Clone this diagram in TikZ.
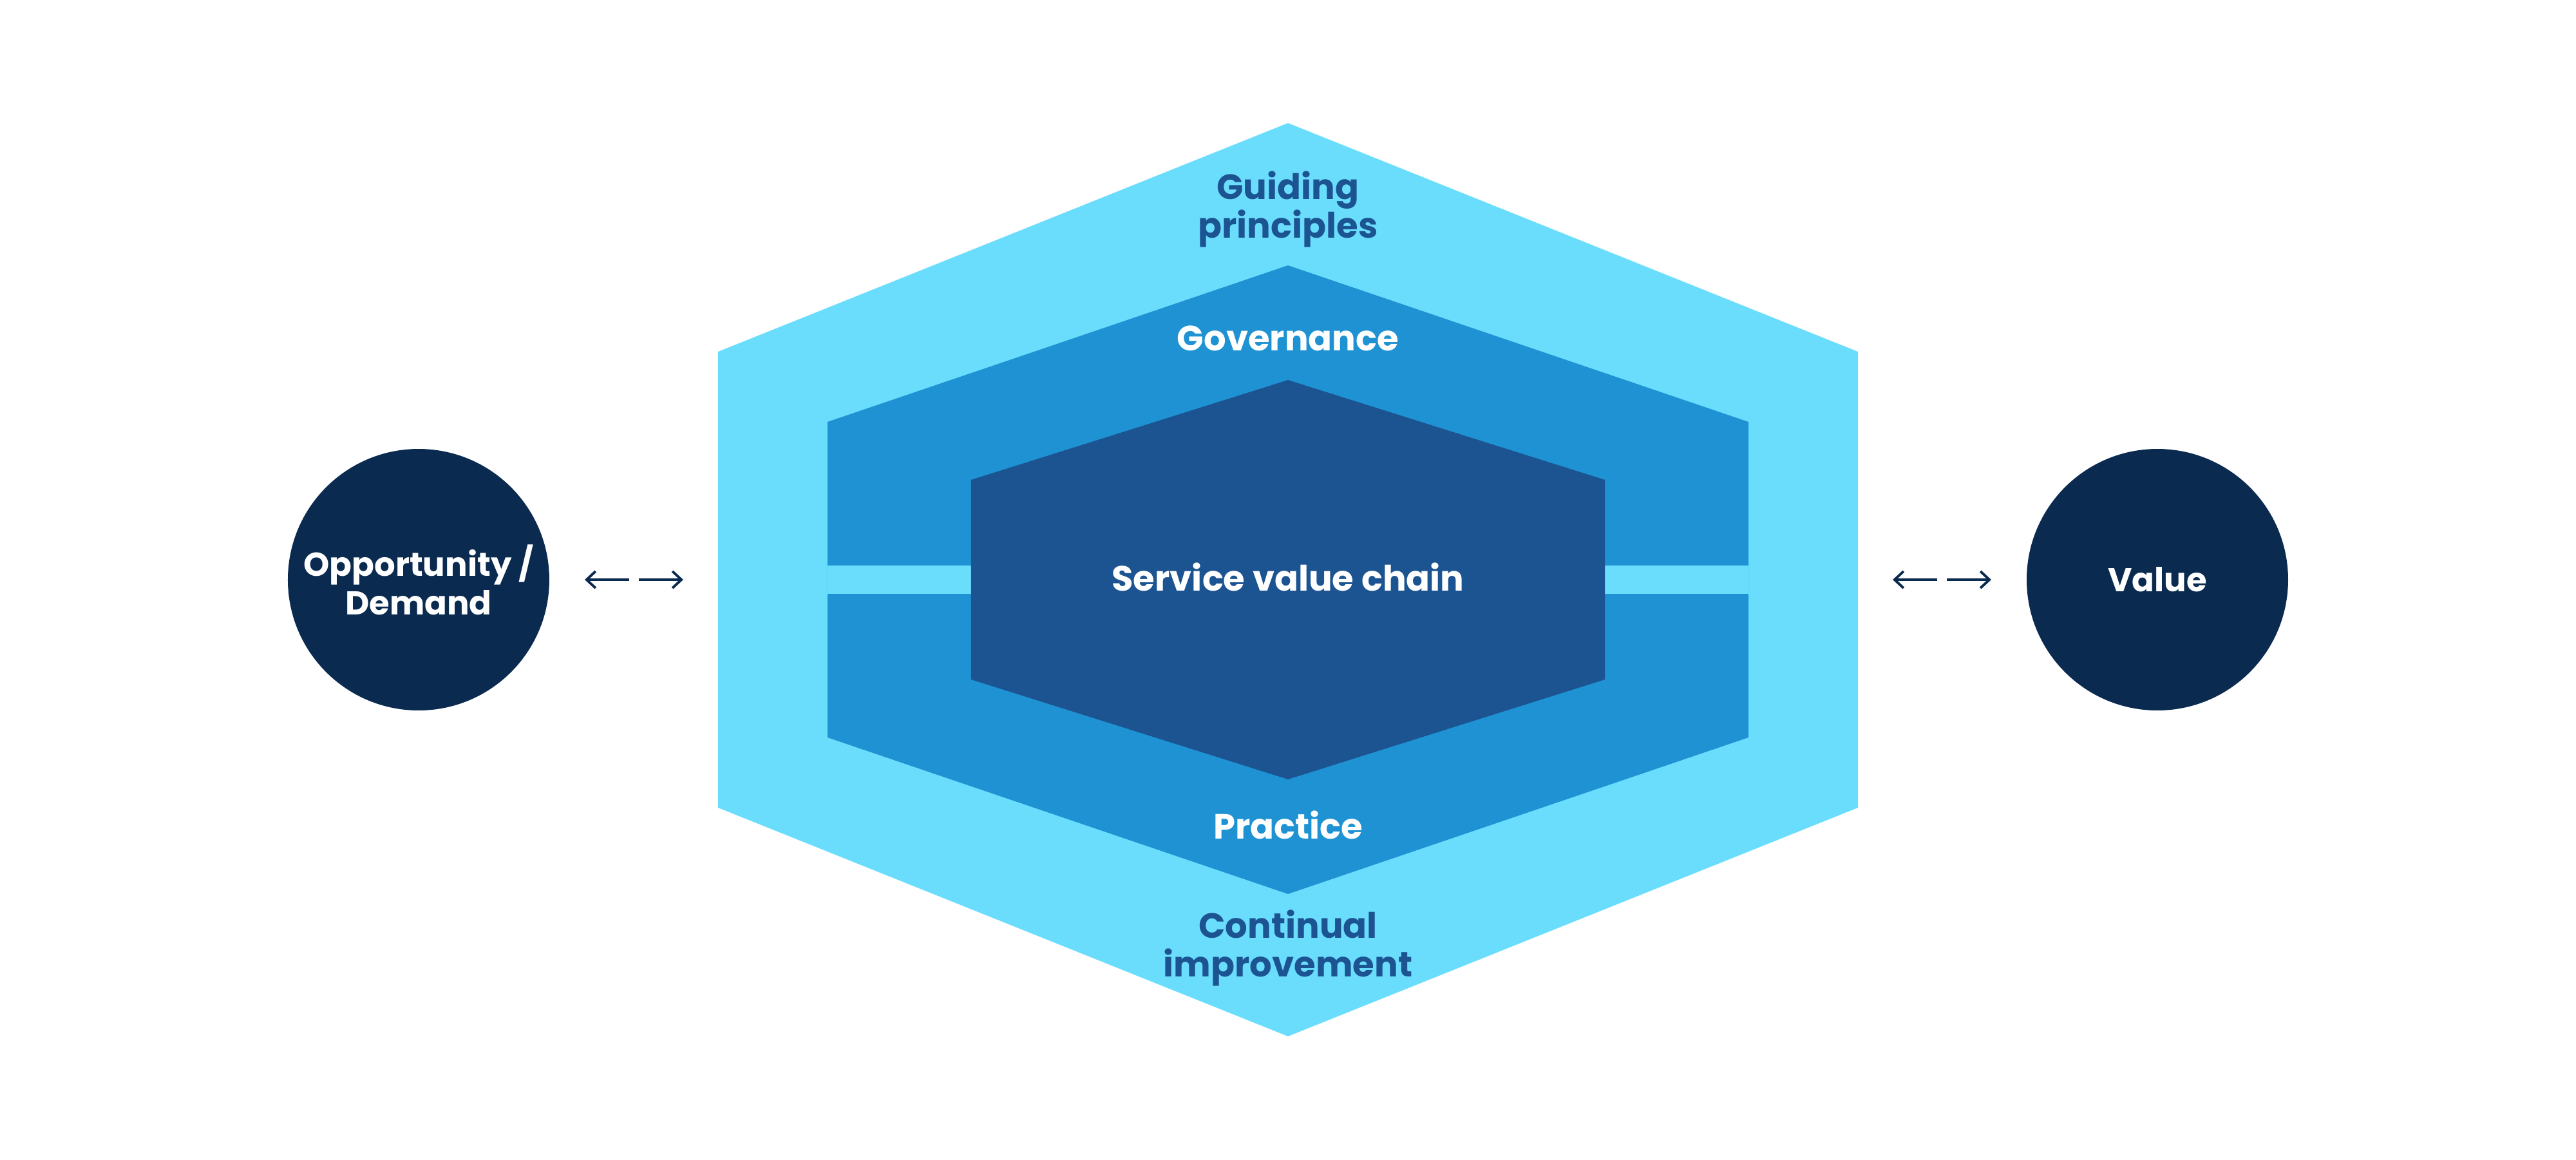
\documentclass[tikz,border=0pt]{standalone}
\usepackage{fontspec}
\setmainfont{Poppins}
\definecolor{guideColour}{RGB}{106, 221, 253}
\definecolor{govColour}{RGB}{30, 146, 210}
\definecolor{chainColour}{RGB}{28, 83, 145}
\definecolor{circleColour}{RGB}{11, 42, 80}
\usetikzlibrary{
    arrows.meta,
    positioning
}

\begin{document}
\begin{tikzpicture}[
        hexlabel/.style={font=\bfseries\fontsize{15.5}{17}\selectfont, align=center},
        roundnode/.style={circle, fill=circleColour, minimum size=4.06cm, inner sep=0pt, text=white, font=\bfseries\fontsize{14.6}{17}\selectfont, align=center},
        flowarrow/.style={draw=circleColour, line width=1.1pt, -{Straight Barb[length=1.4mm, width=2.6mm]}},
    ]
    \useasboundingbox (-20,-9) rectangle (20,9);

    % hexagons
    \begin{scope}
        \fill[guideColour] (0,7.09) -- (8.85,3.54) -- (8.85,-3.54) -- (0,-7.09) -- (-8.85,-3.54) -- (-8.85,3.54) -- cycle;
        \fill[govColour] (0,4.88) -- (7.15,2.45) -- (7.15,-2.45) -- (0,-4.88) -- (-7.15,-2.45) -- (-7.15,2.45) -- cycle;
        \fill[guideColour] (-7.15,-0.22) rectangle (7.15,0.22);
        \fill[chainColour] (0,3.1) -- (4.92,1.55) -- (4.92,-1.55) -- (0,-3.1) -- (-4.92,-1.55) -- (-4.92,1.55) -- cycle;
    \end{scope}

    \begin{scope}
        \node[hexlabel, text=chainColour] (guiding) at (0,5.75) {Guiding\\principles};
        \node[hexlabel, text=white] (governance) at (0,3.75) {Governance};
        \node[hexlabel, text=white] (chain) at (0,0.04) {Service value chain};
        \node[hexlabel, text=white] (practice) at (0,-3.81) {Practice};
        \node[hexlabel, text=chainColour] (improvement) at (0,-5.72) {Continual\\improvement};

        \node[roundnode] (demand) at (-13.5,0) {Opportunity /\\Demand};
        \node[roundnode] (value) at (13.5,0) {Value};
    \end{scope}

    % arrows
    \coordinate (demand_in) at (-10.92,0);
    \coordinate (demand_a) at (-10.23,0);
    \coordinate (demand_b) at (-10.08,0);
    \coordinate (demand_out) at (-9.39,0);
    \coordinate (value_in) at (9.39,0);
    \coordinate (value_a) at (10.08,0);
    \coordinate (value_b) at (10.23,0);
    \coordinate (value_out) at (10.92,0);
    \begin{scope}
        \draw[flowarrow] (demand_a) -- (demand_in);
        \draw[flowarrow] (demand_b) -- (demand_out);
        \draw[flowarrow] (value_a) -- (value_in);
        \draw[flowarrow] (value_b) -- (value_out);
    \end{scope}
\end{tikzpicture}
\end{document}
